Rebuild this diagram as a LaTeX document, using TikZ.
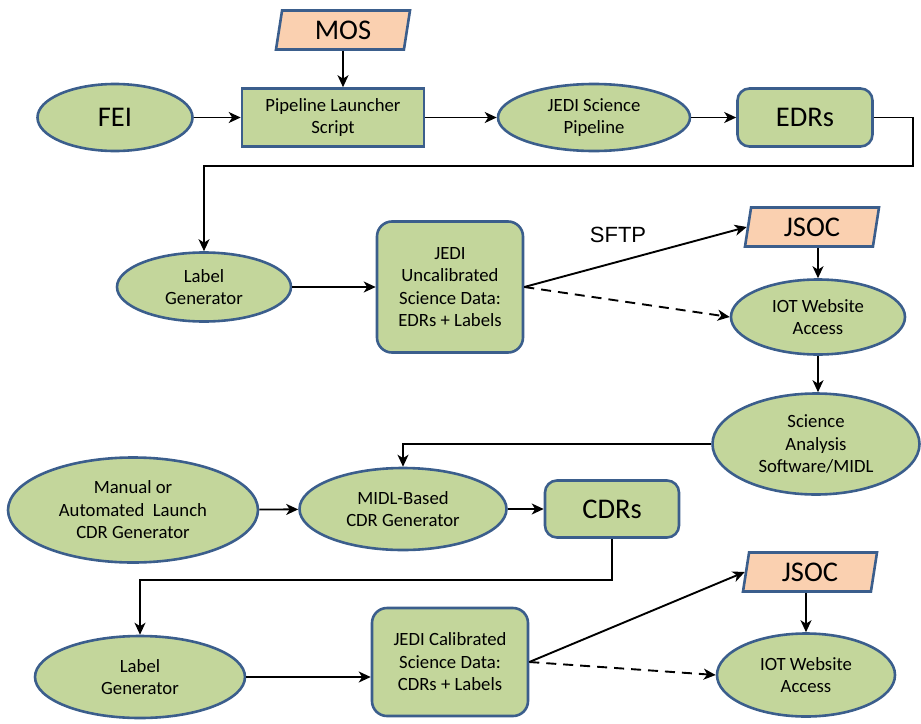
\documentclass[tikz,border=0pt]{standalone}
\usepackage{fontspec}
\setmainfont{Carlito}
\newfontfamily\arialfont{Liberation Sans}
\usetikzlibrary{shapes.geometric,arrows.meta,calc}
\definecolor{gfill}{HTML}{C3D69B}
\definecolor{bline}{HTML}{3B5E8C}
\definecolor{pfill}{HTML}{FAD0B0}
\begin{document}
\begin{tikzpicture}[x=1pt,y=-1pt,
 base/.style={draw=bline, line width=2.6pt, fill=gfill, text=black, align=center, inner sep=0pt, font=\fontsize{18.7}{22.5}\selectfont},
 ell/.style={base, ellipse},
 box/.style={base, rectangle},
 rbox/.style={base, rectangle, rounded corners=12pt},
 big/.style={font=\fontsize{28.5}{32}\selectfont},
 para/.style={base, trapezium, trapezium left angle=72, trapezium right angle=108, trapezium stretches body, fill=pfill, big},
 arr/.style={line width=1.9pt, -{Stealth[length=12pt,width=11pt,inset=3.5pt]}},
 dsh/.style={arr, dash pattern=on 10pt off 7pt},
]
\useasboundingbox (0,0) rectangle (921,723);
\node[para, minimum width=134, minimum height=39] (mos) at (343,30) {MOS};
\node[ell, big, minimum width=155, minimum height=67] (fei) at (115,117.5) {FEI};
\node[box, minimum width=182, minimum height=58] (pls) at (333,117.5) {Pipeline Launcher\\Script};
\node[ell, minimum width=192, minimum height=67] (jsp) at (594,117.5) {JEDI Science\\Pipeline};
\node[rbox, big, minimum width=135, minimum height=58] (edrs) at (805,117.5) {EDRs};
\node[ell, minimum width=174, minimum height=69] (lg1) at (204,287) {Label\\Generator};
\node[rbox, rounded corners=15pt, minimum width=146, minimum height=131] (jud) at (450,287) {JEDI\\Uncalibrated\\Science Data:\\EDRs + Labels};
\node[font=\arialfont\fontsize{22}{26}\selectfont, inner sep=0pt] (sftp) at (618,235) {SFTP};
\node[para, minimum width=134, minimum height=39] (jsoc1) at (812,227) {JSOC};
\node[ell, minimum width=174, minimum height=75] (iot1) at (818,317) {IOT Website\\Access};
\node[ell, minimum width=207, minimum height=101] (sas) at (816,444) {Science\\Analysis\\Software/MIDL};
\node[ell, minimum width=250, minimum height=105] (man) at (133,510) {Manual or\\Automated\ \ Launch\\CDR Generator};
\node[ell, minimum width=207, minimum height=82] (midl) at (403,509) {MIDL-Based\\CDR Generator};
\node[rbox, big, minimum width=134, minimum height=57] (cdrs) at (612,509) {CDRs};
\node[ell, minimum width=210, minimum height=82] (lg2) at (140,677) {Label\\Generator};
\node[rbox, rounded corners=15pt, minimum width=156, minimum height=108] (jcd) at (450,662) {JEDI Calibrated\\Science Data:\\CDRs + Labels};
\node[para, minimum width=134, minimum height=39] (jsoc2) at (810,572) {JSOC};
\node[ell, minimum width=178, minimum height=83] (iot2) at (806,675) {IOT Website\\Access};
\coordinate (c1) at (913,166);
\coordinate (c3) at (612,580);
\draw[arr] (mos.south) -- (mos.south |- pls.north);
\draw[arr] (fei) -- (pls);
\draw[arr] (pls) -- (jsp);
\draw[arr] (jsp) -- (edrs);
\draw[arr] (edrs.east) -| (c1) -| (lg1.north);
\draw[arr] (lg1) -- (jud);
\draw[arr] (jud.east) -- (jsoc1.west);
\draw[dsh] (jud.east) -- (iot1.west);
\draw[arr] (iot1.north |- jsoc1.south) -- (iot1.north);
\draw[arr] (iot1.south) -- (iot1.south |- sas.north);
\draw[arr] (sas.west) -| (midl.north);
\draw[arr] (man) -- (midl);
\draw[arr] (midl) -- (cdrs);
\draw[arr] (cdrs.south) -- (c3) -| (lg2.north);
\draw[arr] (lg2.east) -- (lg2.east -| jcd.west);
\draw[arr] (jcd.east) -- (jsoc2.west);
\draw[dsh] (jcd.east) -- (iot2.west);
\draw[arr] (jsoc2.south -| iot2.north) -- (iot2.north);
\end{tikzpicture}
\end{document}
